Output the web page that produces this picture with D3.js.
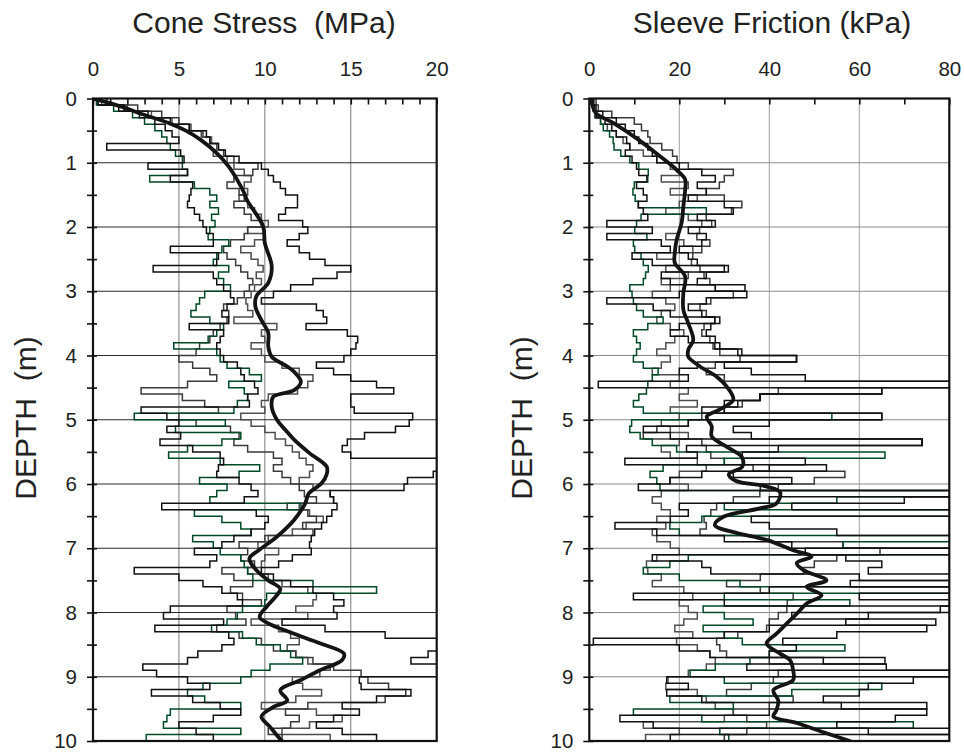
<!DOCTYPE html>
<html><head><meta charset="utf-8">
<script src="https://cdn.jsdelivr.net/npm/d3@7"></script>
<style>
body{margin:0;background:#fff}
svg{display:block}
text{font-family:"Liberation Sans",Arial,Helvetica,sans-serif;fill:#222}
</style>
</head><body>
<svg id="chart" width="964" height="753"></svg>
<script>
// ---------- DATA ----------
// depth sample positions (m), 0.0 .. 10.0 every 0.1 m
const depths = d3.range(0, 101).map(i => i / 10);
const depthTicks = d3.range(0, 21).map(i => i / 2);
const depthLabels = [0,1,2,3,4,5,6,7,8,9,10];

const coneTicks = [0,1,2,3,4,5,6,7,8,9,10,11,12,13,14,15,16,17,18,19,20];
const coneLabels = [0,5,10,15,20];
const coneGrid = [5,10,15];

const fricTicks = [0,10,20,30,40,50,60,70,80];
const fricLabels = [0,20,40,60,80];
const fricGrid = [20,40,60];

// Cone stress profiles (MPa) at each depth sample
const coneA = [0.3,1.8,3.2,4.5,5.6,6.6,6.8,7.3,7.7,8.5,
9.8,10.2,10.5,10.9,11.2,11.9,11.9,11.2,10.8,12.2,
12.5,12.0,11.3,12.0,12.6,13.5,15.0,14.2,12.8,11.5,
10.5,9.8,13.0,13.4,13.6,12.4,14.8,15.4,15.3,15.0,
14.6,13.0,14.0,15.0,16.5,17.5,15.0,15.0,15.2,18.6,
18.4,17.6,15.8,14.8,14.5,15.0,20.5,21,19.8,18.3,
18.1,13.8,14.0,14.2,13.9,13.6,13.3,12.9,12.7,12.6,
12.7,11.6,10.8,9.8,10.5,11.5,12.8,14.0,14.6,14.0,
14.2,11.0,13.5,17.0,20.5,21,19.5,18.5,20.5,20.3,
15.5,15.6,18.5,16.5,14.5,15.5,14.0,13.0,14.5,16.5,
18.8];
const coneB = [0.8,2.6,4.0,5.0,5.7,6.4,6.8,7.3,7.6,8.2,
9.6,9.3,8.2,7.8,8.5,8.8,8.2,8.8,9.2,9.8,
9.0,8.8,8.0,7.6,7.8,8.3,8.6,9.0,9.3,9.1,
8.8,8.4,7.6,7.9,7.8,7.4,7.0,6.8,6.2,6.0,
5.0,5.8,6.8,7.2,5.5,2.8,5.2,6.5,7.3,5.0,
6.0,8.0,8.5,8.2,9.0,10.5,11.0,10.5,11.0,11.5,
12.0,12.3,13.0,11.3,12.5,13.0,12.2,12.8,10.0,8.5,
9.0,8.6,9.4,7.5,8.2,9.3,8.0,8.7,9.8,7.8,
8.3,8.9,7.2,8.5,9.8,10.5,11.8,12.8,14.0,15.6,
16.0,17.2,18.2,17.0,12.5,11.2,12.0,11.5,10.2,11.0,
11.2];
const coneC = [0.2,1.2,2.3,3.0,3.6,4.0,4.3,4.5,4.8,5.2,
5.2,5.5,3.3,5.9,6.8,7.2,6.8,7.3,6.9,7.1,
6.8,6.7,7.9,7.5,7.2,7.0,7.9,7.3,7.6,8.0,
6.5,6.2,6.0,5.7,6.8,7.6,7.2,6.7,4.7,7.2,
7.4,7.8,9.1,9.8,7.9,8.8,9.0,8.4,8.2,2.4,
7.7,4.8,8.6,7.5,5.5,4.4,7.4,9.7,8.5,6.2,
7.8,7.2,6.8,12.1,5.9,7.5,8.6,9.2,5.8,7.0,
7.4,8.6,8.8,9.0,9.3,12.8,16.5,10.1,10.0,8.7,
8.4,7.8,6.9,8.7,9.5,10.9,11.5,12.2,10.3,9.2,
8.6,6.4,5.5,6.5,8.6,4.5,4.3,4.1,8.6,3.1,
4.3];
const coneD = [0.3,1.5,2.7,3.6,4.2,4.6,5.0,0.8,5.1,5.3,
3.2,5.5,4.5,5.8,5.7,5.6,5.5,5.9,6.2,6.4,
6.6,7.0,7.0,4.5,7.3,7.2,3.5,7.0,7.2,7.6,
8.0,8.2,7.8,7.5,7.9,5.6,7.6,7.4,7.2,7.4,
7.6,8.4,8.6,8.8,9.4,9.6,9.0,9.1,2.8,4.3,
5.0,4.3,5.1,3.9,5.8,7.4,7.6,7.3,7.2,8.5,
9.2,9.6,8.8,4.0,9.5,10.2,10.0,9.2,8.2,7.5,
5.9,7.2,6.8,2.4,5.0,6.4,7.5,8.4,8.7,4.5,
4.1,7.6,3.6,7.9,8.2,7.5,6.1,5.5,2.9,3.7,
5.5,6.8,3.4,5.8,7.4,8.6,7.0,5.0,6.0,7.0,
7.0];
const coneE = [0.5,2.0,3.4,4.6,5.6,6.3,6.9,7.2,7.0,7.8,
8.2,8.8,9.2,8.8,9.0,8.5,9.0,9.4,9.8,10.2,
9.0,10.0,9.4,8.6,9.2,9.6,9.9,9.5,9.8,9.4,
9.2,8.9,9.0,9.3,8.2,10.7,9.8,10.0,9.2,9.8,
10.0,11.0,12.0,12.8,12.5,11.9,10.2,9.8,10.0,8.6,
9.2,10.0,10.6,11.2,11.6,12.0,12.4,12.8,12.6,12.0,
12.8,13.8,14.0,12.0,12.6,13.4,12.4,11.6,10.2,9.6,
10.8,10.0,9.8,9.0,10.2,11.0,12.5,13.0,12.8,11.8,
12.5,9.2,10.8,11.5,12.0,11.3,11.8,12.5,13.8,13.2,
11.6,12.2,13.3,11.8,9.8,13.0,14.5,12.6,11.0,13.8,
12.0];
// average cone stress profile [depth, MPa]
const coneMean = [[0,0],[0.13,1.7],[0.23,2.7],[0.38,4.4],[0.5,5.4],[0.64,6.25],[0.85,7.2],[1.06,7.9],[1.27,8.4],[1.47,8.8],[1.58,8.96],[1.99,9.9],[2.25,10.0],[2.61,10.4],[2.87,10.2],[3.08,9.5],[3.24,9.45],[3.45,9.8],[3.65,10.2],[3.86,10.2],[4.02,10.4],[4.17,11.3],[4.28,11.8],[4.41,12.1],[4.54,11.7],[4.64,10.5],[4.8,10.4],[5.0,10.7],[5.16,11.2],[5.31,11.7],[5.52,12.6],[5.73,13.6],[5.85,13.6],[5.99,13.3],[6.15,12.55],[6.3,12.35],[6.56,11.7],[6.82,10.7],[7.02,9.7],[7.16,9.1],[7.34,9.5],[7.5,10.2],[7.63,10.9],[7.73,10.7],[7.91,10.1],[8.07,9.7],[8.17,10.2],[8.33,11.7],[8.48,13.2],[8.64,14.6],[8.74,14.5],[8.9,13.2],[9.05,12.1],[9.21,10.9],[9.37,11.3],[9.47,10.5],[9.62,9.8],[9.78,10.3],[9.94,10.8],[10,11.0]];

// Sleeve friction profiles (kPa) at each depth sample
const fricA = [1,1.5,3,6,8,10,11,13,14,15,
20,25,28,24,26,22,30,32,24,28,
22,26,25,20,22,24,30,26,24,28,
35,26,22,25,29,27,26,28,29,33,
46,30,36,48,85,65,38,33,30,65,
40,32,36,74,42,34,48,40,32,45,
38,85,70,45,85,36,40,55,85,82,
48,57,65,62,85,58,85,60,85,78,
62,57,75,55,43,46,40,52,66,85,
72,62,60,52,56,75,68,55,62,85,
75];
const fricB = [1.5,2.0,5.0,10.0,11.6,13.0,13.5,16.1,18.5,19.5,
22.0,32.0,30.0,28.9,26.0,30.0,33.9,31.6,26.0,27.2,
24.5,23.9,26.8,25.0,23.0,22.7,24.6,25.5,26.8,28.0,
32.0,27.0,24.6,26.0,27.9,25.5,25.0,26.8,27.5,29.0,
33.5,28.0,26.0,30.0,85,42.0,37.9,34.0,30.0,25.0,
22.0,15.0,12.0,25.0,26.0,27.0,30.0,36.4,56.8,50.0,
42.0,37.9,32.0,28.3,27.0,25.5,26.0,24.6,40.0,56.4,
64.6,55.0,50.0,47.6,38.0,30.5,38.0,45.3,44.0,43.9,
42.0,40.0,39.4,33.0,28.3,29.0,30.5,40.0,45.3,42.0,
40.9,36.0,30.5,45.3,40.0,32.0,35.0,39.4,35.0,30.0,
32.0];
const fricC = [0.9,1.2,1.5,2.5,3.1,4.5,5.3,5.5,7.0,9.0,
11.0,13.1,13.0,10.0,9.7,10.2,10.9,26.0,11.5,10.5,
10.1,12.8,9.8,10.1,11.5,12.0,13.1,12.5,12.0,9.0,
9.5,9.8,10.5,12.0,16.4,13.0,9.8,10.5,11.3,10.5,
9.8,12.0,15.3,14.0,13.0,12.7,11.0,9.8,12.0,53.9,
9.4,9.0,11.3,14.0,19.4,65.7,30.0,16.4,13.5,15.0,
15.7,85,55.0,30.0,85,25.0,17.9,20.0,85,56.4,
85,22.0,17.9,12.0,20.0,33.5,85,30.0,57.9,25.3,
30.0,36.4,25.3,30.0,34.0,56.8,40.0,35.7,28.0,22.4,
30.0,65.0,45.0,17.9,32.0,9.8,25.0,72.0,29.0,31.0,
72.0];
const fricD = [0.8,1.0,1.5,3.5,5.0,6.0,8.3,9.0,8.0,9.5,
10.5,11.0,12.8,10.5,12.0,12.8,10.9,12.0,13.0,3.9,
14.0,3.9,16.0,18.0,9.5,14.0,30.9,16.0,18.0,34.6,
20.0,3.9,14.2,18.0,27.9,20.0,18.0,22.0,27.9,33.9,
46.1,24.0,20.0,22.0,2.0,65.0,37.9,30.0,25.0,65.0,
22.0,12.0,18.0,73.9,21.6,24.0,7.9,52.7,25.0,17.9,
10.9,85,40.0,20.0,22.0,18.0,5.7,15.0,30.0,45.0,
85,14.0,25.0,27.0,60.0,85,40.0,9.8,30.0,85,
45.0,77.0,40.0,30.0,0.9,20.0,26.8,65.7,35.0,85,
17.2,22.0,17.2,25.0,75.0,40.0,6.8,14.2,85,18.0,
14.0];
const fricE = [0.5,0.8,1.2,2.5,4.0,6.0,7.5,9.0,12.0,15.0,
18.0,20.0,16.0,22.0,18.0,24.0,20.0,17.0,22.0,25.0,
20.0,17.0,21.0,23.0,15.0,19.0,17.0,22.0,16.0,18.0,
14.0,17.0,19.0,16.0,15.0,18.0,21.0,19.0,17.0,15.0,
18.0,16.0,14.0,20.0,18.0,22.0,20.0,24.0,18.0,20.0,
16.0,18.0,22.0,20.0,16.0,18.0,24.0,26.0,20.0,18.0,
22.0,16.0,14.0,16.0,18.0,15.0,17.0,14.0,15.0,18.0,
20.0,15.0,12.7,13.0,16.0,14.0,21.0,23.0,20.0,22.0,
24.0,21.0,19.0,23.0,19.4,24.0,26.8,28.0,26.0,22.0,
17.5,17.0,24.0,26.0,28.0,32.0,30.0,12.0,20.0,12.5,
14.0];
// average sleeve friction profile [depth, kPa]
const fricMean = [[0,0.5],[0.07,0.6],[0.23,1.5],[0.38,5.3],[0.64,10.9],[0.9,15.7],[1.11,19.4],[1.26,21.3],[1.42,21.3],[1.68,20.9],[1.94,20.5],[2.2,19.4],[2.4,19.0],[2.56,19.0],[2.77,21.3],[3.03,20.9],[3.29,20.9],[3.5,22.0],[3.76,23.1],[3.91,22.0],[4.02,22.0],[4.17,24.6],[4.33,28.3],[4.48,30.5],[4.69,32.0],[4.85,28.7],[4.95,26.1],[5.1,27.2],[5.26,27.2],[5.42,30.5],[5.58,33.9],[5.73,34.0],[5.85,31.0],[5.95,32.5],[6.04,39.5],[6.13,42.4],[6.3,41.6],[6.38,37.9],[6.51,29.8],[6.64,27.9],[6.76,32.7],[6.87,39.4],[7.03,45.3],[7.13,49.4],[7.23,46.1],[7.34,47.6],[7.5,52.7],[7.6,48.3],[7.73,51.6],[7.86,48.3],[8.02,46.1],[8.17,43.9],[8.33,41.6],[8.48,39.4],[8.64,42.4],[8.74,44.6],[8.9,45.3],[9.05,45.3],[9.21,40.9],[9.37,42.0],[9.52,41.6],[9.62,40.9],[9.72,46.1],[9.88,52.7],[10,57.9]];

// ---------- DRAW ----------
const svg = d3.select('#chart');
const Y0 = 98.5, Y1 = 741;
const y = d3.scaleLinear().domain([0, 10]).range([Y0, Y1]);

const COL = {black:'#111111', gray:'#3a3a3a', gray2:'#4e4e4e', green:'#004a26'};

function drawPanel(cfg) {
  const x = d3.scaleLinear().domain(cfg.domain).range([cfg.x0, cfg.x1]);
  const g = svg.append('g');
  const clipId = 'clip-' + cfg.id;
  svg.append('clipPath').attr('id', clipId).append('rect')
    .attr('x', cfg.x0).attr('y', Y0).attr('width', cfg.x1 - cfg.x0).attr('height', Y1 - Y0);

  // gridlines
  g.append('g').selectAll('line').data(cfg.grid).join('line')
    .attr('x1', d => x(d)).attr('x2', d => x(d)).attr('y1', Y0).attr('y2', Y1)
    .attr('stroke', cfg.vGridColor).attr('stroke-width', 1);
  g.append('g').selectAll('line').data(depthLabels.slice(1, -1)).join('line')
    .attr('x1', cfg.x0).attr('x2', cfg.x1).attr('y1', d => y(d)).attr('y2', d => y(d))
    .attr('stroke', cfg.hGridColor).attr('stroke-width', 1);

  // thin profiles
  const stepLine = d3.line().x(d => x(d[1])).y(d => y(d[0])).curve(d3.curveStepBefore);
  const tg = g.append('g').attr('clip-path', `url(#${clipId})`);
  cfg.series.forEach(s => {
    tg.append('path').datum(depths.map((d, i) => [d, s.values[i]]))
      .attr('d', stepLine).attr('fill', 'none')
      .attr('stroke', s.color).attr('stroke-width', 1.5).attr('stroke-linejoin', 'miter');
  });
  // mean profile
  const meanLine = d3.line().x(d => x(d[1])).y(d => y(d[0])).curve(d3.curveCatmullRom.alpha(0.5));
  tg.append('path').datum(cfg.mean).attr('d', meanLine).attr('fill', 'none')
    .attr('stroke', '#141414').attr('stroke-width', 3.8).attr('stroke-linecap', 'round');

  // top axis
  const top = d3.axisTop(x).tickValues(cfg.ticks).tickSizeInner(-6).tickSizeOuter(0).tickPadding(23)
    .tickFormat(d => cfg.labels.includes(d) ? d : '');
  const ta = g.append('g').attr('transform', `translate(0,${Y0})`).call(top);
  // left axis: outward ticks with labels, plus short inward ticks
  const left = d3.axisLeft(y).tickValues(depthTicks).tickSizeInner(6).tickSizeOuter(0).tickPadding(10)
    .tickFormat(d => Number.isInteger(d) ? d : '');
  const la = g.append('g').attr('transform', `translate(${cfg.x0},0)`).call(left);
  const leftIn = d3.axisLeft(y).tickValues(depthTicks).tickSizeInner(-4).tickSizeOuter(0).tickFormat('');
  const li = g.append('g').attr('transform', `translate(${cfg.x0},0)`).call(leftIn);
  [ta, la, li].forEach(a => {
    a.select('.domain').remove();
    a.selectAll('.tick line').attr('stroke', '#111').attr('stroke-width', 1.6);
    a.selectAll('.tick text').attr('font-size', 20.5).attr('fill', '#222')
      .attr('font-family', '"Liberation Sans",Arial,Helvetica,sans-serif');
  });

  // frame
  g.append('rect').attr('x', cfg.x0).attr('y', Y0).attr('width', cfg.x1 - cfg.x0).attr('height', Y1 - Y0)
    .attr('fill', 'none').attr('stroke', '#111').attr('stroke-width', 2.2);

  // titles
  g.append('text').attr('x', cfg.titleX).attr('y', 33).attr('text-anchor', 'middle')
    .attr('font-size', 30).style('white-space', 'pre').text(cfg.title);
  g.append('text').attr('transform', `translate(${cfg.x0 - 57},418) rotate(-90)`)
    .attr('text-anchor', 'middle').attr('font-size', 30).style('white-space', 'pre').text('DEPTH  (m)');
}

drawPanel({
  id: 'cone', domain: [0, 20], x0: 93, x1: 436.7,
  ticks: coneTicks, labels: coneLabels, grid: coneGrid,
  vGridColor: '#7a7a7a', hGridColor: '#2a2a2a',
  title: 'Cone Stress  (MPa)', titleX: 264,
  series: [
    {values: coneE, color: COL.gray2},
    {values: coneB, color: COL.gray},
    {values: coneC, color: COL.green},
    {values: coneD, color: COL.black},
    {values: coneA, color: COL.black}
  ],
  mean: coneMean
});

drawPanel({
  id: 'fric', domain: [0, 80], x0: 589.3, x1: 949.3,
  ticks: fricTicks, labels: fricLabels, grid: fricGrid,
  vGridColor: '#a0a0a0', hGridColor: '#8c8c8c',
  title: 'Sleeve Friction (kPa)', titleX: 772,
  series: [
    {values: fricE, color: COL.gray2},
    {values: fricB, color: COL.gray},
    {values: fricC, color: COL.green},
    {values: fricD, color: COL.black},
    {values: fricA, color: COL.black}
  ],
  mean: fricMean
});
</script>
</body></html>
